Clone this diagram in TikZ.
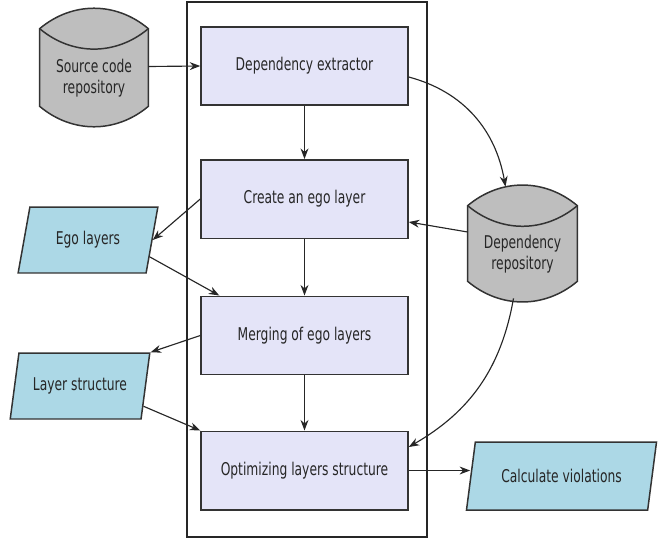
\documentclass[tikz,border=0pt]{standalone}
\usepackage{fontspec}
\setmainfont[FakeStretch=0.7]{DejaVu Sans}
\usetikzlibrary{shapes.geometric, arrows.meta, calc, backgrounds}

\definecolor{procfill}{RGB}{228,228,248}
\definecolor{iofill}{RGB}{172,216,230}
\definecolor{drumfill}{RGB}{190,190,190}

\newcommand{\drawdrum}[1]{%
  \begin{scope}[on background layer]
  \draw[drum] ([yshift=-0.14cm]#1.north west) -- ([yshift=0.58cm]#1.south west)
    to[bend right=40] ([yshift=0.58cm]#1.south east) -- ([yshift=-0.14cm]#1.north east)
    to[bend right=40] ([yshift=-0.14cm]#1.north west) -- cycle;
  \draw[drum, fill=none] ([yshift=-0.14cm]#1.north west) to[bend right=40] ([yshift=-0.14cm]#1.north east);
  \end{scope}}

\begin{document}
\begin{tikzpicture} [x=0.02cm, y=-0.02cm, align=center, font=\fontsize{10}{12}\selectfont, text=black!85,
  proc/.style={rectangle, draw=black!80, line width=0.85pt, fill=procfill, minimum width=4.14cm, minimum height=1.57cm},
  iobox/.style={trapezium, trapezium left angle=75, trapezium right angle=105, trapezium stretches=true,
    draw=black!80, line width=0.85pt, fill=iofill, minimum width=2.8cm, minimum height=1.32cm},
  drum/.style={draw=black!80, line width=0.85pt, fill=drumfill},
  stage/.style={rectangle, draw=black!85, line width=0.85pt, minimum width=4.8cm, minimum height=10.7cm},
  flow/.style={-{Stealth[length=6pt, width=4.5pt]}, draw=black!85, line width=0.65pt}]
\useasboundingbox (0,0) rectangle (658,541);

\path (307, 269.5) node[stage] (stage) {};

\path (304.5, 66) node[proc] (dx) {Dependency extractor}
      (304.5, 199) node[proc] (egob) {Create an ego layer}
      (304.5, 335.5) node[proc] (merge) {Merging of ego layers}
      (304.5, 470.5) node[proc] (opt) {Optimizing layers structure};

\path (94, 78.5) node[minimum width=2.16cm, minimum height=2.26cm] (src) {Source code\\repository}
      (522.5, 254.5) node[minimum width=2.18cm, minimum height=2.22cm] (dep) {Dependency\\repository};
\drawdrum{src}
\drawdrum{dep}

\path (88, 240) node[iobox] (egol) {Ego layers}
      (80, 386) node[iobox] (lay) {Layer structure}
      (561.5, 476) node[iobox, minimum width=3.82cm, minimum height=1.36cm] (calc) {Calculate violations};

\draw[flow] ([yshift=0.24cm]src.east) -- (dx.west);
\draw[flow] (dx) -- (egob);
\draw[flow] (egob) -- (merge);
\draw[flow] (merge) -- (opt);
\draw[flow] ([yshift=-0.22cm]dx.east) to[out=-15, in=100] ([xshift=-0.34cm, yshift=0.24cm]dep.north);
\draw[flow] ([yshift=0.45cm]dep.west) -- ([yshift=-0.46cm]egob.east);
\draw[flow] (egob.west) -- (egol.east);
\draw[flow] ($(egol.east)!0.5!(egol.bottom right corner)$) -- ([xshift=0.38cm]merge.north west);
\draw[flow] (merge.west) -- (lay.top right corner);
\draw[flow] ($(lay.east)!0.6!(lay.bottom right corner)$) -- (opt.north west);
\draw[flow] ([xshift=-0.18cm, yshift=0.24cm]dep.south) to[out=-100, in=30] ([yshift=0.47cm]opt.east);
\draw[flow] (opt.east) -- (opt.east -| calc.west);
\end{tikzpicture}
\end{document}
